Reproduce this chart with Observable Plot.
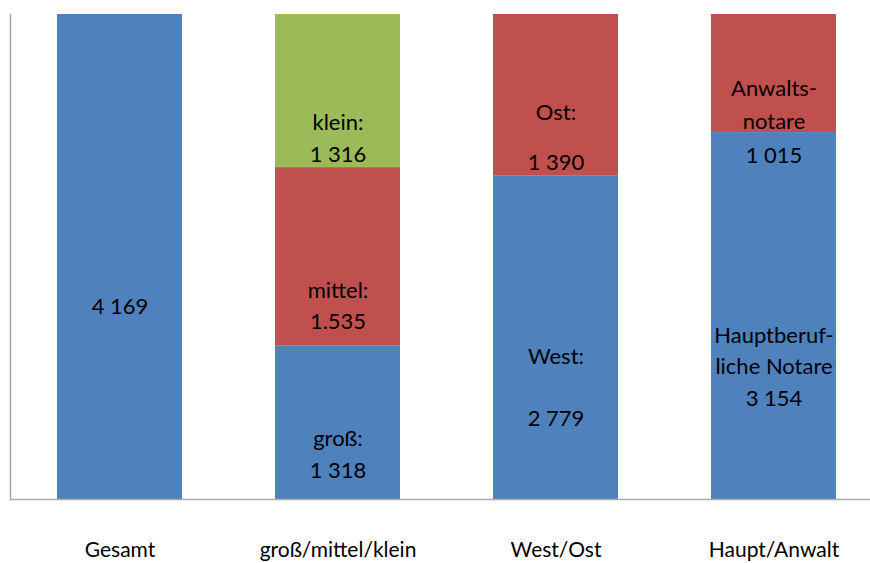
<!DOCTYPE html>
<html>
<head>
<meta charset="utf-8">
<script src="https://cdn.jsdelivr.net/npm/d3@7"></script>
<script src="https://cdn.jsdelivr.net/npm/@observablehq/plot@0.6"></script>
<style>
  html, body { margin: 0; padding: 0; background: #fff; }
  #chart svg { font-family: Lato, "Open Sans", sans-serif; background: #fff; }
</style>
</head>
<body>
<div id="chart"></div>
<script>
// ---- data ----
const categories = ["Gesamt", "groß/mittel/klein", "West/Ost", "Haupt/Anwalt"];
// segments per category, bottom to top
const gesamtValues = [4169];
const gesamtNames = [""];
const gesamtTexts = ["4 169"];
const groesseValues = [1318, 1535, 1316];
const groesseNames = ["groß:", "mittel:", "klein:"];
const groesseTexts = ["1 318", "1.535", "1 316"];
const regionValues = [2779, 1390];
const regionNames = ["West:", "Ost:"];
const regionTexts = ["2 779", "1 390"];
const artValues = [3154, 1015];
const artNames = ["Hauptberuf-\nliche Notare", "Anwalts-\nnotare"];
const artTexts = ["3 154", "1 015"];

const series = [
  [gesamtValues, gesamtNames, gesamtTexts],
  [groesseValues, groesseNames, groesseTexts],
  [regionValues, regionNames, regionTexts],
  [artValues, artNames, artTexts]
];

// ---- styles (kept apart from data) ----
const colors = ["#4F81BD", "#C0504D", "#9BBB59"];
// label placement per category & segment: [dy, lineHeight, separator]
const labelStyle = [
  [[46.5, 1.45, ""]],
  [[29, 1.45, "\n"], [47, 1.41, "\n"], [45, 1.45, "\n"]],
  [[47, 1.41, "\n\n"], [42, 1.14, "\n\n"]],
  [[48, 1.43, "\n"], [45, 1.52, "\n"]]
];

// build table
const rows = [];
series.forEach(([vals, names, texts], ci) => {
  let base = 0;
  vals.forEach((v, i) => {
    rows.push({
      cat: categories[ci], idx: i, ci, value: v,
      y1: base, y2: base + v, mid: base + v / 2,
      label: names[i] ? names[i] + labelStyle[ci][i][2] + texts[i] : texts[i]
    });
    base += v;
  });
});

const labelMarks = rows.map(r => {
  const [dy, lh] = labelStyle[r.ci][r.idx];
  return Plot.text([r], {
    x: "cat", y: "mid", text: "label", dy, lineHeight: lh,
    lineAnchor: "middle", fontSize: 22, fill: "#000"
  });
});

const chart = Plot.plot({
  width: 870,
  height: 563,
  marginLeft: 10,
  marginRight: 0,
  marginTop: 14,
  marginBottom: 64,
  x: { domain: categories, range: [11, 883], paddingInner: 0.4266, paddingOuter: 0.2133, align: 0.5, label: null },
  y: { domain: [0, 4169], axis: null },
  marks: [
    Plot.barY(rows, { x: "cat", y1: "y1", y2: "y2", fill: d => colors[d.idx] }),
    Plot.frame({ anchor: "left", stroke: "#999", strokeWidth: 1.3 }),
    Plot.ruleY([0], { stroke: "#aaa", strokeWidth: 1.3 }),
    Plot.axisX({ tickSize: 0, tickPadding: 43, fontSize: 21, label: null, fill: "#000" }),
    ...labelMarks
  ]
});
document.getElementById("chart").appendChild(chart);
</script>
</body>
</html>
